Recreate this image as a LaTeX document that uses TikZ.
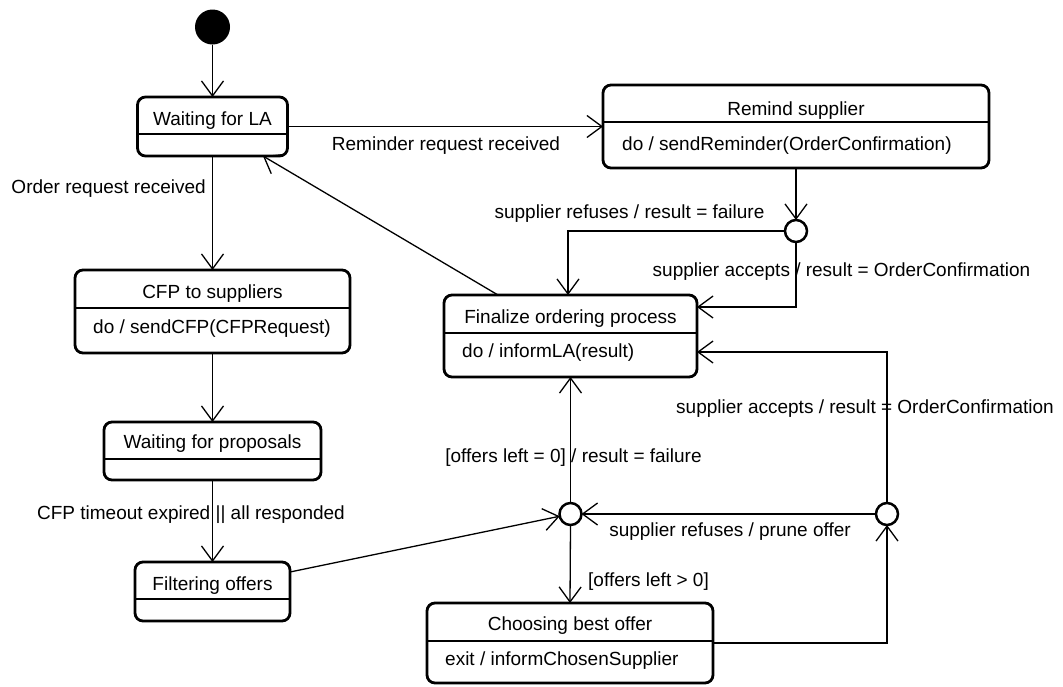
\documentclass[tikz,border=0pt]{standalone}
\usepackage{fontspec}
\setmainfont{Liberation Sans}
\usetikzlibrary{arrows.meta}
\begin{document}
\begin{tikzpicture}[x=1pt,y=-1pt,
  font=\fontsize{19}{22}\selectfont,
  statebox/.style={draw, line width=2.8pt, rounded corners=8pt, inner sep=0pt, outer sep=0pt},
  divider/.style={line width=1.3pt},
  title/.style={inner sep=0pt, anchor=base},
  activity/.style={inner sep=0pt, anchor=base west},
  lbl/.style={inner sep=0pt, anchor=base},
  junction/.style={circle, draw, line width=2.5pt, minimum size=22pt, inner sep=0pt, outer sep=0pt, fill=white},
  arr/.style={line width=1.3pt, -{Straight Barb[length=15pt,width=22pt,line width=1.3pt]}}
]
\useasboundingbox (0,0) rectangle (1063,686);

% initial pseudo-state
\node[circle, fill=black, minimum size=35pt, inner sep=0pt, outer sep=0pt] (init) at (212.5,27) {};

% states
\node[statebox, minimum width=150pt, minimum height=59pt] (wla) at (212.5,126.5) {};
\draw[divider] (137.5,134) -- (287.5,134);
\node[title] (wla-t) at (212.5,125) {Waiting for LA};

\node[statebox, minimum width=386pt, minimum height=83pt] (rem) at (796,126.5) {};
\draw[divider] (603,122) -- (989,122);
\node[title] (rem-t) at (796,115) {Remind supplier};
\node[activity] (rem-a) at (622,150) {do / sendReminder(OrderConfirmation)};

\node[statebox, minimum width=275pt, minimum height=83pt] (cfp) at (212.5,311.5) {};
\draw[divider] (75,308) -- (350,308);
\node[title] (cfp-t) at (212.5,298) {CFP to suppliers};
\node[activity] (cfp-a) at (93,333) {do / sendCFP(CFPRequest)};

\node[statebox, minimum width=217pt, minimum height=58pt] (wfp) at (212.5,451) {};
\draw[divider] (104,459) -- (321,459);
\node[title] (wfp-t) at (212.5,448) {Waiting for proposals};

\node[statebox, minimum width=155pt, minimum height=59pt] (fo) at (212.5,591.5) {};
\draw[divider] (135,599) -- (290,599);
\node[title] (fo-t) at (212.5,590) {Filtering offers};

\node[statebox, minimum width=253pt, minimum height=82pt] (fin) at (570.5,336) {};
\draw[divider] (444,333) -- (697,333);
\node[title] (fin-t) at (570.5,323) {Finalize ordering process};
\node[activity] (fin-a) at (462,357) {do / informLA(result)};

\node[statebox, minimum width=286pt, minimum height=80pt] (cbo) at (570,643) {};
\draw[divider] (427,641) -- (713,641);
\node[title] (cbo-t) at (570,630) {Choosing best offer};
\node[activity] (cbo-a) at (445,665) {exit / informChosenSupplier};

% choice points
\node[junction] (j1) at (796,231) {};
\node[junction] (j2) at (570.5,514) {};
\node[junction] (j3) at (887,514) {};

% transitions
\draw[arr] (init.south) -- (wla.north);
\draw[arr] (wla.east) -- (rem.west);
\draw[arr] (wla.south) -- (cfp.north);
\draw[arr] (cfp.south) -- (wfp.north);
\draw[arr] (wfp.south) -- (fo.north);
\draw[arr] ([yshift=19.5pt]fo.east) -- (j2);
\draw[arr] (rem.south) -- (j1.north);
\draw[arr] (j1.west) -| ([xshift=-2.5pt]fin.north);
\draw[arr] (j1.south) |- ([yshift=29pt]fin.east);
\draw[arr] ([xshift=-72.5pt]fin.north) -- ([xshift=50.5pt]wla.south);
\draw[arr] (j2.north) -- (fin.south);
\draw[arr] (j2.south) -- (cbo.north);
\draw[arr] (cbo.east) -| (j3.south);
\draw[arr] (j3.west) -- (j2.east);
\draw[arr] (j3.north) |- ([yshift=-16pt]fin.east);

% transition labels
\node[lbl, anchor=base east] (l-order) at (206,193) {Order request received};
\node[lbl] (l-remind) at (446,150) {Reminder request received};
\node[lbl] (l-refuse1) at (629.5,218) {supplier refuses / result = failure};
\node[lbl] (l-accept1) at (841.5,276) {supplier accepts / result = OrderConfirmation};
\node[lbl] (l-accept2) at (865,413) {supplier accepts / result = OrderConfirmation};
\node[lbl] (l-none) at (573.5,462) {[offers left = 0] / result = failure};
\node[lbl] (l-timeout) at (191,519) {CFP timeout expired || all responded};
\node[lbl] (l-prune) at (730,536) {supplier refuses / prune offer};
\node[lbl] (l-some) at (648.5,586) {[offers left > 0]};
\end{tikzpicture}
\end{document}
